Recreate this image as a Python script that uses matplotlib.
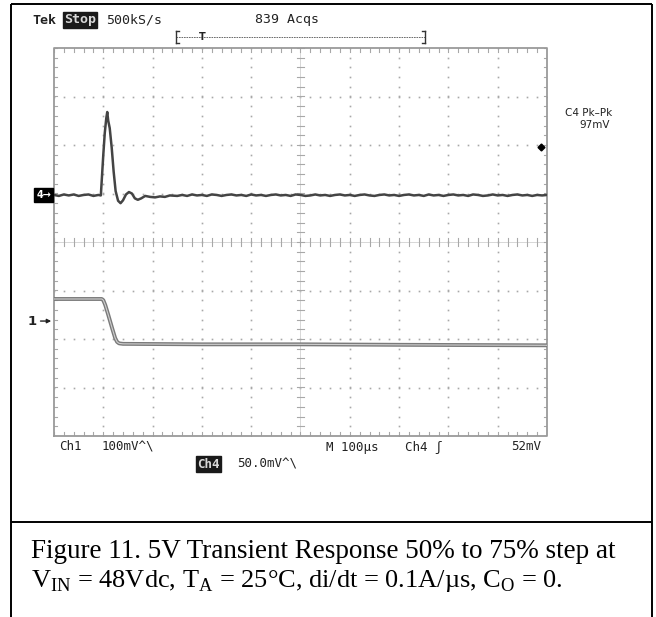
import matplotlib
matplotlib.use("Agg")
import matplotlib.pyplot as plt
import numpy as np

W, H, DPI = 656, 617, 100

# ---------------- data (scope divisions: x 0..10, y -4..4) ----------------
ch4_t = [0.0, 0.1, 0.2, 0.3, 0.4, 0.5, 0.6, 0.7, 0.8, 0.9, 0.95,
         1.00, 1.03, 1.06, 1.08, 1.10, 1.13, 1.17, 1.21, 1.25, 1.30, 1.35,
         1.40, 1.46, 1.52, 1.58, 1.64, 1.70, 1.77, 1.85, 1.95, 2.05, 2.15,
         2.25, 2.35, 2.5, 2.6, 2.7, 2.8, 2.9, 3.0, 3.1, 3.2, 3.3, 3.4, 3.5,
         3.6, 3.7, 3.8, 3.9, 4.0, 4.1, 4.2, 4.3, 4.4, 4.5, 4.6, 4.7, 4.8,
         4.9, 5.0, 5.1, 5.2, 5.3, 5.4, 5.5, 5.6, 5.7, 5.8, 5.9, 6.0, 6.1,
         6.2, 6.3, 6.4, 6.5, 6.6, 6.7, 6.8, 6.9, 7.0, 7.1, 7.2, 7.3, 7.4,
         7.5, 7.6, 7.7, 7.8, 7.9, 8.0, 8.1, 8.2, 8.3, 8.4, 8.5, 8.6, 8.7,
         8.8, 8.9, 9.0, 9.1, 9.2, 9.3, 9.4, 9.5, 9.6, 9.7, 9.8, 9.9, 10.0]
ch4_v = [0.97, 0.95, 0.98, 0.96, 0.98, 0.95, 0.97, 0.98, 0.95, 0.97, 0.96,
         1.80, 2.25, 2.55, 2.68, 2.50, 2.35, 1.95, 1.45, 1.05, 0.85, 0.80,
         0.86, 0.98, 1.03, 1.00, 0.90, 0.87, 0.90, 0.95, 0.93, 0.92, 0.94,
         0.93, 0.96, 0.95, 0.97, 0.95, 0.98, 0.96, 0.97, 0.95, 0.98, 0.97,
         0.95, 0.97, 0.98, 0.96, 0.97, 0.95, 0.98, 0.96, 0.97, 0.95, 0.97,
         0.98, 0.96, 0.97, 0.95, 0.98, 0.97, 0.95, 0.96, 0.98, 0.96, 0.97,
         0.95, 0.97, 0.98, 0.96, 0.97, 0.95, 0.97, 0.98, 0.96, 0.95, 0.97,
         0.98, 0.96, 0.97, 0.95, 0.97, 0.98, 0.96, 0.97, 0.95, 0.98, 0.96,
         0.97, 0.95, 0.97, 0.98, 0.96, 0.97, 0.95, 0.98, 0.97, 0.95, 0.96,
         0.98, 0.96, 0.97, 0.95, 0.97, 0.98, 0.96, 0.97, 0.95, 0.97, 0.96, 0.97]

ch1_t = [0.0, 0.97, 1.00, 1.04, 1.10, 1.18, 1.24, 1.28, 1.32, 1.40, 3.0, 5.0, 7.0, 10.0]
ch1_v = [-1.175, -1.175, -1.20, -1.30, -1.50, -1.78, -1.98, -2.06, -2.09, -2.10,
         -2.11, -2.11, -2.12, -2.13]

ch4_ref_level = 0.97
ch1_ref_level = -1.63
trigger_level = 1.96

top_labels = ["Tek", "Stop", "500kS/s", "839 Acqs"]
bottom_labels = ["Ch1", "100mV^\\", "M 100\u00b5s", "Ch4 \u0283", "52mV", "Ch4", "50.0mV^\\"]
meas_labels = ["C4 Pk\u2013Pk", "97mV"]
caption1 = "Figure 11. 5V Transient Response 50% to 75% step at"
caption2 = ("V$_{\\mathrm{IN}}$ = 48Vdc, T$_{\\mathrm{A}}$ = 25\u00b0C, "
            "di/dt = 0.1A/\u00b5s, C$_{\\mathrm{O}}$ = 0.")

plt.rcParams['mathtext.fontset'] = 'custom'
plt.rcParams['mathtext.rm'] = 'Liberation Serif'

fig = plt.figure(figsize=(W / DPI, H / DPI), dpi=DPI)
fig.patch.set_facecolor('white')

# overlay axes in pixel coordinates
ov = fig.add_axes([0, 0, 1, 1])
ov.set_xlim(0, W)
ov.set_ylim(H, 0)
ov.axis('off')

# outer frame
fc = 'black'
ov.plot([11, 11], [4, H], color=fc, lw=1.4, solid_capstyle='butt')
ov.plot([652, 652], [4, H], color=fc, lw=1.4, solid_capstyle='butt')
ov.plot([11, 652], [4, 4], color=fc, lw=1.4, solid_capstyle='butt')
ov.plot([11, 652], [522, 522], color=fc, lw=1.4, solid_capstyle='butt')

# scope graticule axes
gl, gt, gr, gb = 54, 48, 547, 436
ax = fig.add_axes([gl / W, 1 - gb / H, (gr - gl) / W, (gb - gt) / H])
ax.set_xlim(0, 10)
ax.set_ylim(-4, 4)
ax.axis('off')

gc = '#a8a8a8'
sub_x = np.arange(0, 10.01, 0.2)
sub_y = np.arange(-4, 4.01, 0.2)
for gx in [1, 2, 3, 4, 6, 7, 8, 9]:
    ax.plot(np.full_like(sub_y, gx), sub_y, ls='none', marker='s', ms=1.2, color=gc, mew=0)
for gy in [-3, -2, -1, 1, 2, 3]:
    ax.plot(sub_x, np.full_like(sub_x, gy), ls='none', marker='s', ms=1.2, color=gc, mew=0)
ax.plot([5, 5], [-4, 4], color='#c8c8c8', lw=0.5)
ax.plot([0, 10], [0, 0], color='#c8c8c8', lw=0.5)
for yy in sub_y:
    ax.plot([4.92, 5.08], [yy, yy], color=gc, lw=0.8)
for xx in sub_x:
    ax.plot([xx, xx], [-0.08, 0.08], color=gc, lw=0.8)
for yy in sub_y:
    ax.plot([0, 0.07], [yy, yy], color=gc, lw=0.8)
    ax.plot([9.93, 10], [yy, yy], color=gc, lw=0.8)
for xx in sub_x:
    ax.plot([xx, xx], [4, 3.92], color=gc, lw=0.8)
    ax.plot([xx, xx], [-4, -3.92], color=gc, lw=0.8)
ax.plot([0, 10, 10, 0, 0], [-4, -4, 4, 4, -4], color='#9a9a9a', lw=1.3, clip_on=False)

# traces
ax.plot(ch1_t, ch1_v, color='#7a7a7a', lw=2.8, solid_joinstyle='round')
ax.plot(ch1_t, ch1_v, color='#cfcfcf', lw=0.8, solid_joinstyle='round')
ax.plot(ch4_t, ch4_v, color='#444444', lw=1.8, solid_joinstyle='round')
ax.plot([9.87], [trigger_level], marker='D', ms=3.5, color='black', clip_on=False)

# channel markers
ax.text(-0.06, ch4_ref_level, "4\u2192", ha='right', va='center', fontsize=7,
        color='white', fontweight='bold', clip_on=False,
        bbox=dict(boxstyle='square,pad=0.2', fc='black', ec='black'))
ax.text(-0.35, ch1_ref_level, "1", ha='right', va='center', fontsize=9.5,
        color='#222222', fontweight='bold', clip_on=False)
ax.annotate("", xy=(0, ch1_ref_level), xytext=(-0.33, ch1_ref_level),
            arrowprops=dict(arrowstyle='-|>', color='#222222', lw=1.0, mutation_scale=6),
            annotation_clip=False)

# top status text
tc = '#222222'
mono = 'DejaVu Sans Mono'
ov.text(32, 20, top_labels[0], fontsize=9.5, family=mono, color=tc, va='center', ha='left', fontweight='bold')
ov.text(64, 20, top_labels[1], fontsize=9.5, family=mono, color='#d8d8d8', va='center', ha='left',
        fontweight='bold', bbox=dict(boxstyle='square,pad=0.1', fc='#1a1a1a', ec='#1a1a1a'))
ov.text(106, 20, top_labels[2], fontsize=9.5, family=mono, color=tc, va='center', ha='left')
ov.text(255, 20, top_labels[3], fontsize=9.5, family=mono, color=tc, va='center', ha='left')
# trigger position bar
ov.plot([176, 425], [37, 37], color='#555555', lw=0.6, ls=(0, (2, 1)))
for xb, d in [(176, 3), (425, -3)]:
    ov.plot([xb, xb], [31, 43], color='#333333', lw=1.0)
    ov.plot([xb, xb + d], [31, 31], color='#333333', lw=1.0)
    ov.plot([xb, xb + d], [43, 43], color='#333333', lw=1.0)
ov.text(202, 37, "T", fontsize=7, color=tc, va='center', ha='center', fontweight='bold')

# measurement text on right
ov.text(612, 113, meas_labels[0], fontsize=7.5, color=tc, va='center', ha='right')
ov.text(610, 125, meas_labels[1], fontsize=7.5, color=tc, va='center', ha='right')

# bottom status text
fs = 9
ov.text(59, 447, bottom_labels[0], fontsize=fs, family=mono, color=tc, va='center', ha='left')
ov.text(102, 447, bottom_labels[1], fontsize=fs, family=mono, color=tc, va='center', ha='left')
ov.text(326, 447, bottom_labels[2], fontsize=fs, family=mono, color=tc, va='center', ha='left')
ov.text(405, 447, bottom_labels[3], fontsize=fs, family=mono, color=tc, va='center', ha='left')
ov.text(541, 447, bottom_labels[4], fontsize=fs, family=mono, color=tc, va='center', ha='right')
ov.text(197, 464, bottom_labels[5], fontsize=fs, family=mono, color='#d8d8d8', va='center', ha='left',
        fontweight='bold', bbox=dict(boxstyle='square,pad=0.1', fc='#1a1a1a', ec='#1a1a1a'))
ov.text(237, 464, bottom_labels[6], fontsize=fs, family=mono, color=tc, va='center', ha='left')

# caption
ov.text(31, 558, caption1, fontsize=19.5, family='Liberation Serif', color='black', va='baseline', ha='left')
ov.text(31, 587, caption2, fontsize=19, family='Liberation Serif', color='black', va='baseline', ha='left')

fig.savefig("out.png", dpi=DPI)
